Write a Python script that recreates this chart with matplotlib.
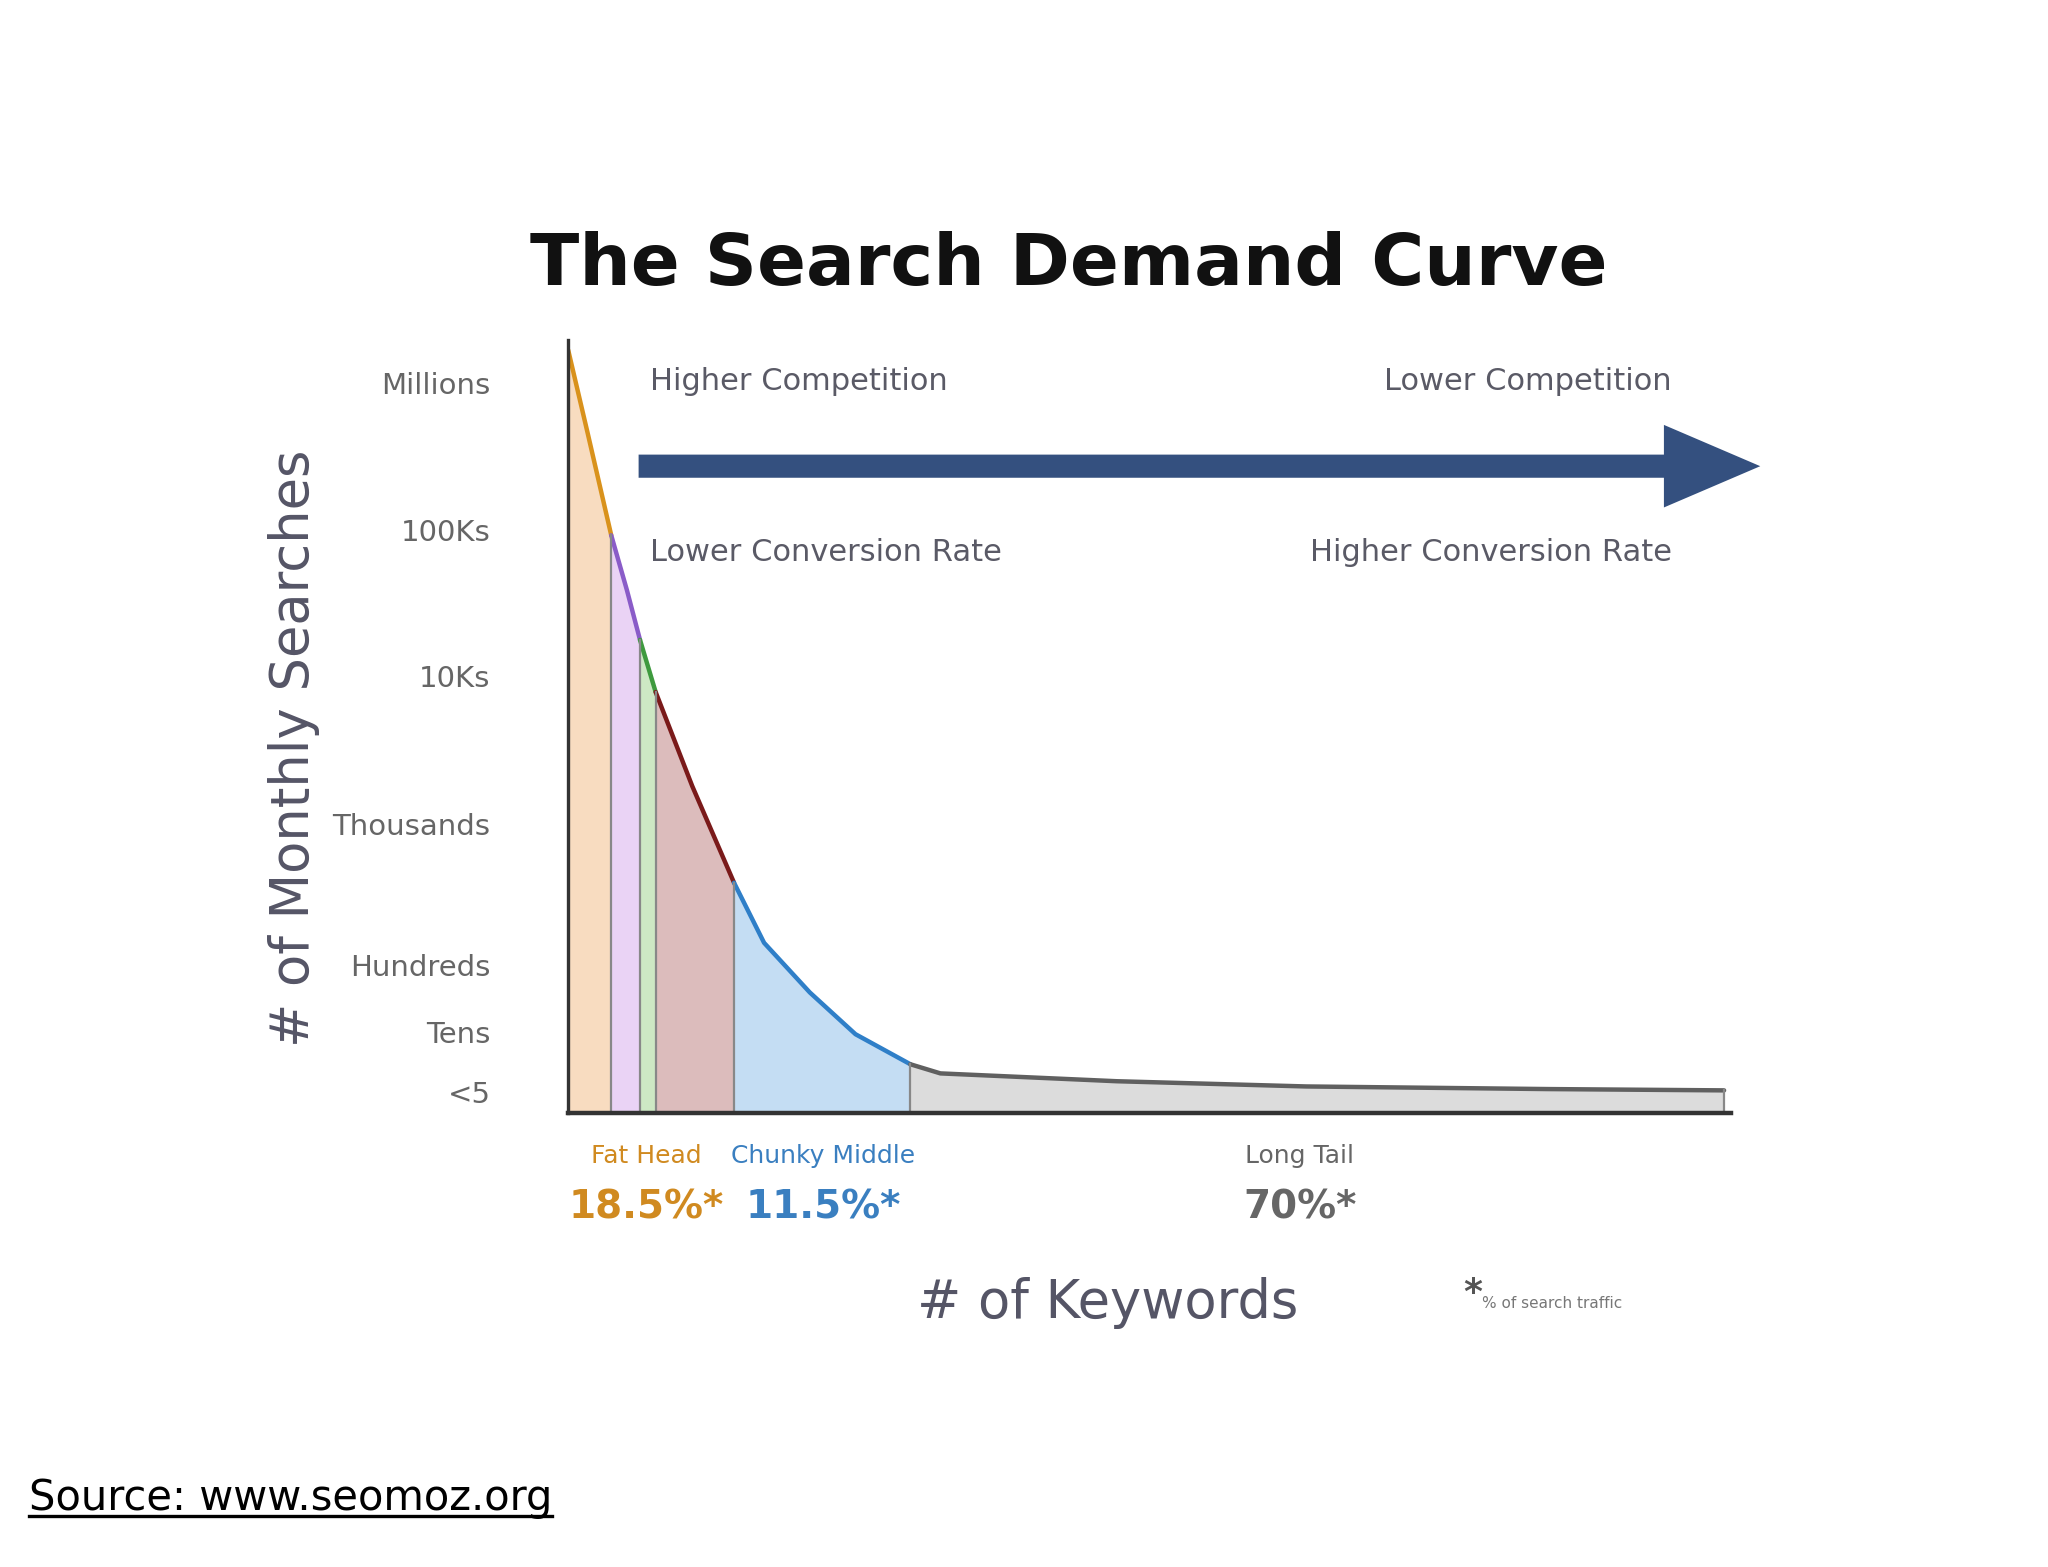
import matplotlib
matplotlib.use("Agg")
import matplotlib.pyplot as plt
import numpy as np

# curve (x: keyword rank units, y: search-level units)
curve_x = [0, 15, 33, 45, 55, 67, 95, 127, 150, 185, 220, 262, 285, 420, 565, 750, 885]
curve_y = [584, 520, 442, 400, 362, 322, 250, 176, 130, 92, 60, 37, 30, 24, 20, 18, 17]
seg_bounds = [0, 33, 55, 67, 127, 262, 885]
seg_fill = ["#f8dcc0", "#ead3f5", "#cde8c4", "#dcbcbc", "#c4ddf3", "#dcdcdc"]
seg_line = ["#d9921c", "#8a5cc8", "#3e9a3e", "#7a1a1a", "#2f7fc8", "#606060"]
tick_pos = [16, 62, 113, 221, 334, 446, 559]
tick_labels = ["<5", "Tens", "Hundreds", "Thousands", "10Ks", "100Ks", "Millions"]

W, H = 1568, 1200
fig = plt.figure(figsize=(10.24, 7.835), dpi=200)
fig.patch.set_facecolor("white")
def fx(x): return x / W
def fy(y): return 1 - y / H

ax = fig.add_axes([fx(435), fy(852), fx(1325) - fx(435), fy(260) - fy(852)])
ax.set_xlim(0, 890)
ax.set_ylim(0, 592)
cx = np.array(curve_x, float); cy = np.array(curve_y, float)
for i in range(len(seg_fill)):
    a, b = seg_bounds[i], seg_bounds[i + 1]
    m = (cx >= a) & (cx <= b)
    xs = cx[m]; ys = cy[m]
    ax.fill_between(xs, 0, ys, color=seg_fill[i], lw=0)
    ax.plot(xs, ys, color=seg_line[i], lw=1.6, solid_capstyle="round")
    if i > 0:
        ax.plot([a, a], [0, np.interp(a, cx, cy)], color="#888888", lw=0.8)
ax.plot([885, 885], [0, 17], color="#888888", lw=0.8)
for s in ["top", "right"]:
    ax.spines[s].set_visible(False)
ax.spines["left"].set_color("#333333"); ax.spines["bottom"].set_color("#333333")
ax.spines["left"].set_linewidth(1.2); ax.spines["bottom"].set_linewidth(1.6)
ax.set_xticks([])
ax.set_yticks(tick_pos)
ax.set_yticklabels(tick_labels, fontsize=10.5, color="#666666")
ax.tick_params(axis="y", length=0, pad=28)

fig.text(fx(818), fy(203), "The Search Demand Curve", fontsize=26, fontweight="bold",
         ha="center", va="center", color="#111111")
fig.text(fx(225), fy(573), "# of Monthly Searches", fontsize=19, rotation=90,
         ha="center", va="center", color="#555566")
fig.text(fx(848), fy(998), "# of Keywords", fontsize=19, ha="center", va="center", color="#555566")

g = "#5a5a66"
fig.text(fx(498), fy(292), "Higher Competition", fontsize=11, ha="left", va="center", color=g)
fig.text(fx(1280), fy(292), "Lower Competition", fontsize=11, ha="right", va="center", color=g)
fig.text(fx(498), fy(423), "Lower Conversion Rate", fontsize=11, ha="left", va="center", color=g)
fig.text(fx(1280), fy(423), "Higher Conversion Rate", fontsize=11, ha="right", va="center", color=g)

fig.patches.append(matplotlib.patches.FancyArrow(
    fx(490), fy(357), fx(1345) - fx(490), 0, width=0.013, head_width=0.05,
    head_length=fx(70), length_includes_head=True, color="#34507f",
    transform=fig.transFigure, figure=fig))

fig.text(fx(495), fy(885), "Fat Head", fontsize=9, ha="center", va="center", color="#d08a20")
fig.text(fx(630), fy(885), "Chunky Middle", fontsize=9, ha="center", va="center", color="#3a7fc0")
fig.text(fx(995), fy(885), "Long Tail", fontsize=9, ha="center", va="center", color="#666666")
fig.text(fx(495), fy(925), "18.5%*", fontsize=14, fontweight="bold", ha="center", va="center", color="#d08a20")
fig.text(fx(630), fy(925), "11.5%*", fontsize=14, fontweight="bold", ha="center", va="center", color="#3a7fc0")
fig.text(fx(995), fy(925), "70%*", fontsize=14, fontweight="bold", ha="center", va="center", color="#666666")
fig.text(fx(1120), fy(990), "*", fontsize=13, fontweight="bold", ha="left", va="center", color="#555555")
fig.text(fx(1135), fy(998), "% of search traffic", fontsize=5.5, ha="left", va="center", color="#777777")

t = fig.text(fx(22), fy(1147), "Source: www.seomoz.org", fontsize=15, ha="left", va="center",
             color="black", family="DejaVu Sans")
fig.canvas.draw()
bb = t.get_window_extent().transformed(fig.transFigure.inverted())
fig.add_artist(matplotlib.lines.Line2D([bb.x0, bb.x1], [bb.y0 + 0.002, bb.y0 + 0.002],
                                       color="black", lw=1.2, transform=fig.transFigure))
fig.savefig("out.png", dpi=200, facecolor="white")
